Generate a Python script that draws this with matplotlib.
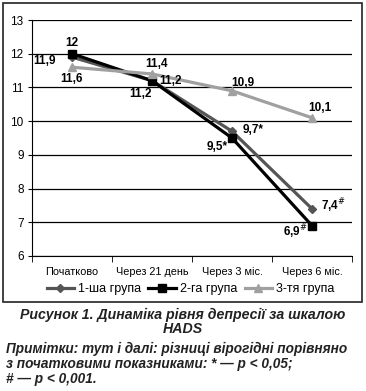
import numpy as np
import matplotlib.pyplot as plt
from matplotlib.patches import Rectangle

plt.rc('font', family='Liberation Sans', size=8)

categorie = ['Початково', 'Через 21 день', 'Через 3 міс.', 'Через 6 міс.']
gruppo1 = [11.9, 11.2, 9.7, 7.4]
gruppo2 = [12.0, 11.2, 9.5, 6.9]
gruppo3 = [11.6, 11.4, 10.9, 10.1]
etichette1 = ['11,9', '11,2', '9,7*', '7,4$^{\\#}$']
etichette2 = ['12', '11,2', '9,5*', '6,9$^{\\#}$']
etichette3 = ['11,6', '11,4', '10,9', '10,1']
nomi = ['1-ша група', '2-га група', '3-тя група']

# spostamenti delle etichette in pixel
off1 = [(-27, -4), (19, 0), (21, 1), (21, 3)]
off2 = [(0, 11), (-12, -13), (-15, -9), (-17, -6)]
off3 = [(-1, -12), (5, 10), (11, 8), (8, 10)]

fig = plt.figure(figsize=(3.66, 3.91), dpi=100)
fig.patches.append(Rectangle((3 / 366, 1 - 302 / 391), 359 / 366, 299 / 391,
                             transform=fig.transFigure, fill=False, lw=1.2, ec='#222222'))

ax = fig.add_axes([32 / 366, 1 - 256 / 391, 320 / 366, 236 / 391])
x = np.arange(len(categorie))

serie = [
    (gruppo1, etichette1, off1, '#555555', 'D', 4.5),
    (gruppo2, etichette2, off2, '#000000', 's', 5.5),
    (gruppo3, etichette3, off3, '#a0a0a0', '^', 5.5),
]
for (val, et, off, col, mk, ms), nome in zip(serie, nomi):
    ax.plot(x, val, color=col, lw=2.3, marker=mk, ms=ms, label=nome, zorder=3)
    for xi, v, t, o in zip(x, val, et, off):
        ax.annotate(t, (xi, v), xytext=o, textcoords='offset pixels',
                    ha='center', va='center', fontsize=8.5, fontweight='bold', zorder=5)

ax.set_xlim(-0.5, 3.5)
ax.set_ylim(6, 13)
ax.set_yticks(np.arange(6, 14))
ax.yaxis.grid(True, color='black', lw=0.9)
ax.set_axisbelow(True)
ax.set_xticks(x)
ax.set_xticklabels(categorie, fontsize=7.8)
ax.set_xticks(np.arange(-0.5, 4, 1), minor=True)
ax.tick_params(axis='x', which='major', length=0, pad=8)
ax.tick_params(axis='x', which='minor', length=4, direction='out')
ax.tick_params(axis='y', length=3, direction='out', labelsize=8.5, pad=3)
for s in ['top', 'right']:
    ax.spines[s].set_visible(False)

ax.legend(loc='center', bbox_to_anchor=(0.52, 1 - 289 / 391), bbox_transform=fig.transFigure,
          ncol=3, frameon=False, fontsize=9, handlelength=2.2, columnspacing=0.6,
          handletextpad=0.3)

fig.text(0.5, 1 - 322 / 391, 'Рисунок 1. Динаміка рівня депресії за шкалою\nHADS',
         ha='center', va='center', fontsize=10.2, fontweight='bold', style='italic',
         color='#222222', linespacing=1.05)
fig.text(6 / 366, 1 - 364 / 391,
         'Примітки: тут і далі: різниці вірогідні порівняно\nз початковими показниками: * — p < 0,05;\n# — p < 0,001.',
         ha='left', va='center', fontsize=9.8, fontweight='bold', style='italic',
         color='#222222', linespacing=1.05)

plt.savefig('out.png', dpi=100)
